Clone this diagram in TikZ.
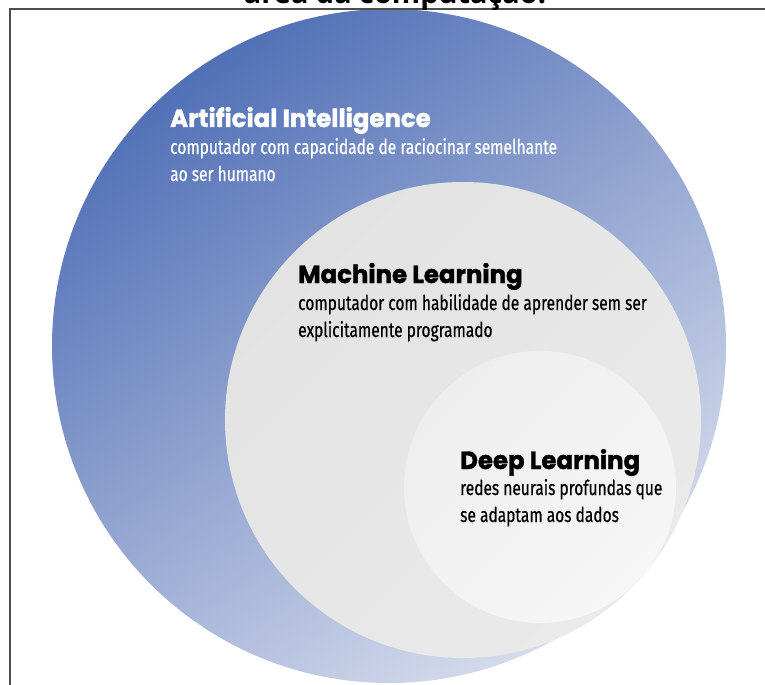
\documentclass[tikz,border=0pt]{standalone}
\usepackage{fontspec}
\setmainfont{Fira Sans}
\newfontfamily\headfont{Poppins}[FakeStretch=0.98,FakeBold=1.6]
\newfontfamily\bodyfont{Fira Sans}[FakeStretch=0.76,FakeBold=0.5]
\newfontfamily\titlefont{Open Sans}
\usetikzlibrary{positioning}

\definecolor{aiblue}{HTML}{5170B6}
\definecolor{aimid}{HTML}{6781C0}
\definecolor{aipale}{HTML}{D6DCEC}
\definecolor{mldark}{HTML}{E3E3E3}
\definecolor{mllight}{HTML}{EAEAEA}
\definecolor{dldark}{HTML}{EEEEEE}
\definecolor{dllight}{HTML}{F6F6F6}
\definecolor{framegray}{HTML}{4D4D4D}

\tikzset{
  field/.style={circle, inner sep=0pt, outer sep=0pt},
  heading/.style={anchor=base west, inner sep=0pt, font=\headfont\bfseries\fontsize{25}{25}\selectfont},
  desc/.style={anchor=base west, inner sep=0pt, font=\bodyfont\fontsize{20.5}{20.5}\selectfont},
}

\begin{document}
\begin{tikzpicture}[x=1bp,y=-1bp]
  \useasboundingbox (0,0) rectangle (765,685);

  % nested fields
  \node[field, minimum size=674bp, top color=aiblue, middle color=aimid,
        bottom color=aipale, shading angle=35] (ai) at (389,346) {};
  \node[field, minimum size=476bp, left color=mldark, right color=mllight,
        shading angle=45] (ml) at (463,420) {};
  \node[field, minimum size=272bp, left color=dldark, right color=dllight,
        shading angle=45] (dl) at (540,487) {};

  % frame and cut title
  \draw[framegray, line width=1.2bp] (10,685) -- (10,9) -- (765,9);
  \node[anchor=base, inner sep=0pt, font=\titlefont\bfseries\fontsize{29}{29}\selectfont]
    (title) at (395,4) {área da computação:};

  % labels
  \node[heading, white] (aihead) at (170,127) {Artificial Intelligence};
  \node[desc, white] (ailine1) at (170,154) {computador com capacidade de raciocinar semelhante};
  \node[desc, white] (ailine2) at (170,181) {ao ser humano};

  \node[heading] (mlhead) at (298,283) {Machine Learning};
  \node[desc] (mlline1) at (298,310) {computador com habilidade de aprender sem ser};
  \node[desc] (mlline2) at (298,337) {explicitamente programado};

  \node[heading] (dlhead) at (460,469) {Deep Learning};
  \node[desc] (dlline1) at (460,495) {redes neurais profundas que};
  \node[desc] (dlline2) at (460,522) {se adaptam aos dados};
\end{tikzpicture}
\end{document}
